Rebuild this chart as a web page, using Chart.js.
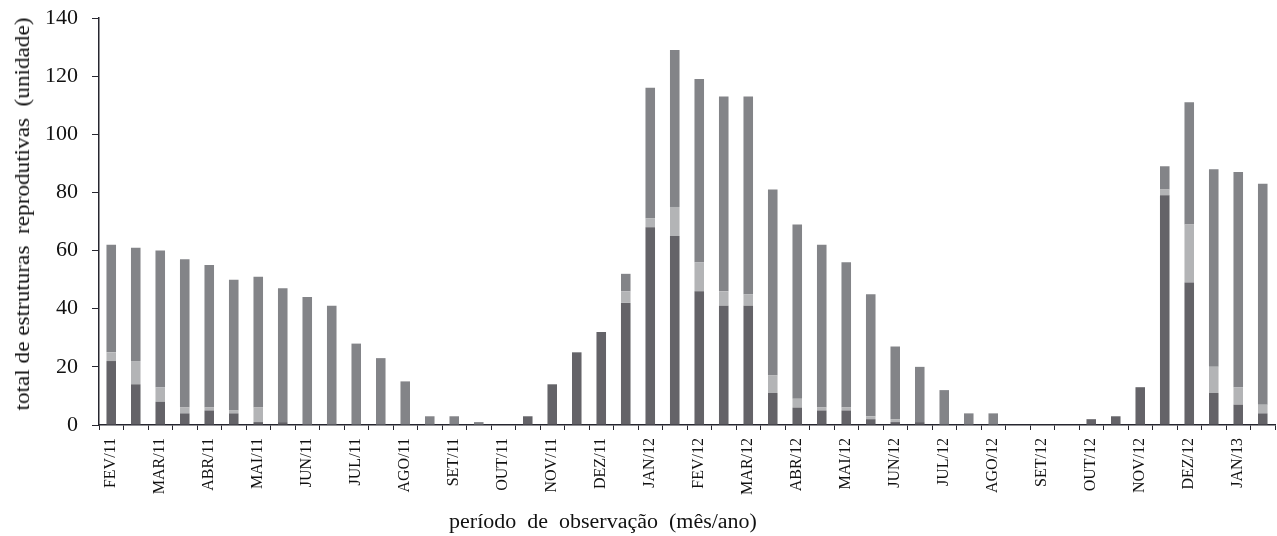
<!DOCTYPE html>
<html>
<head>
<meta charset="utf-8">
<script src="https://cdn.jsdelivr.net/npm/chart.js@4"></script>
<style>
  html, body { margin: 0; padding: 0; background: #fff; }
  #wrap { position: relative; width: 1277px; height: 536px; }
  canvas { position: absolute; left: 0; top: 0; }
  .axis-title {
    position: absolute;
    font-family: "Liberation Serif", "Times New Roman", serif;
    font-size: 20px;
    line-height: 20px;
    color: #111;
    white-space: pre;
  }
  #xTitle { left: 603px; top: 511px; transform: translateX(-50%) scaleX(1.1); }
  #yTitle { left: 22px; top: 214px; transform: translate(-50%, -50%) rotate(-90deg) scaleX(1.16); }
</style>
</head>
<body>
<div id="wrap">
  <canvas id="chart" width="1277" height="536"></canvas>
  <div class="axis-title" id="xTitle">período  de  observação  (mês/ano)</div>
  <div class="axis-title" id="yTitle">total de estruturas  reprodutivas  (unidade)</div>
</div>
<script>
// Months labelled on the x axis (two observations per month)
const monthLabels = [
  'FEV/11', 'MAR/11', 'ABR/11', 'MAI/11', 'JUN/11', 'JUL/11', 'AGO/11', 'SET/11',
  'OUT/11', 'NOV/11', 'DEZ/11', 'JAN/12', 'FEV/12', 'MAR/12', 'ABR/12', 'MAI/12',
  'JUN/12', 'JUL/12', 'AGO/12', 'SET/12', 'OUT/12', 'NOV/12', 'DEZ/12', 'JAN/13'
];

// Reproductive structures counted at each observation (stacked bottom to top)
const darkSeries = [
  22, 14, 8, 4, 5, 4, 1, 1, 0, 0, 0, 0, 0, 0, 0, 0,
  0, 3, 14, 25, 32, 42, 68, 65, 46, 41, 41, 11, 6, 5, 5, 2,
  1, 1, 0, 0, 0, 0, 0, 0, 2, 3, 13, 79, 49, 11, 7, 4
];
const lightSeries = [
  3, 8, 5, 2, 1, 1, 5, 0, 0, 0, 0, 0, 0, 0, 0, 0,
  0, 0, 0, 0, 0, 4, 3, 10, 10, 5, 4, 6, 3, 1, 1, 1,
  1, 0, 0, 0, 0, 0, 0, 0, 0, 0, 0, 2, 20, 9, 6, 3
];
const mediumSeries = [
  37, 39, 47, 51, 49, 45, 45, 46, 44, 41, 28, 23, 15, 3, 3, 1,
  0, 0, 0, 0, 0, 6, 45, 54, 63, 67, 68, 64, 60, 56, 50, 42,
  25, 19, 12, 4, 4, 0, 0, 0, 0, 0, 0, 8, 42, 68, 74, 76
];

const yTicks = [0, 20, 40, 60, 80, 100, 120, 140];

// One category per observation; only the first of each month carries a label
const categories = [];
monthLabels.forEach(m => { categories.push(m); categories.push(''); });

const axisColor = '#26262f';
const serif = '"Liberation Serif", "Times New Roman", serif';

new Chart(document.getElementById('chart'), {
  type: 'bar',
  data: {
    labels: categories,
    datasets: [
      { data: darkSeries, backgroundColor: '#646368' },
      { data: lightSeries, backgroundColor: '#b3b4b6' },
      { data: mediumSeries, backgroundColor: '#838488' }
    ]
  },
  options: {
    responsive: false,
    animation: false,
    events: [],
    layout: { padding: { top: 18, right: 2, bottom: 31, left: 0 } },
    datasets: { bar: { barPercentage: 0.39, categoryPercentage: 1.0 } },
    plugins: { legend: { display: false }, tooltip: { enabled: false } },
    scales: {
      x: {
        stacked: true,
        offset: true,
        afterFit: s => { s.height = 80; s.paddingLeft = 0; s.paddingRight = 0; },
        grid: { offset: true, drawOnChartArea: false, drawTicks: true, tickLength: 5, color: axisColor, lineWidth: 1 },
        border: { display: true, color: axisColor, width: 1.5 },
        ticks: {
          autoSkip: false, minRotation: 90, maxRotation: 90, padding: 8,
          color: '#111', font: { family: serif, size: 16 }
        }
      },
      y: {
        stacked: true,
        min: 0,
        max: 140,
        afterFit: s => { s.width = 99; s.paddingTop = 0; s.paddingBottom = 0; },
        afterBuildTicks: s => { s.ticks = yTicks.map(v => ({ value: v })); },
        grid: { drawOnChartArea: false, drawTicks: true, tickLength: 7, color: axisColor, lineWidth: 1 },
        border: { display: true, color: axisColor, width: 1.5 },
        ticks: { padding: 14, color: '#111', font: { family: serif, size: 22 } }
      }
    }
  }
});
</script>
</body>
</html>
